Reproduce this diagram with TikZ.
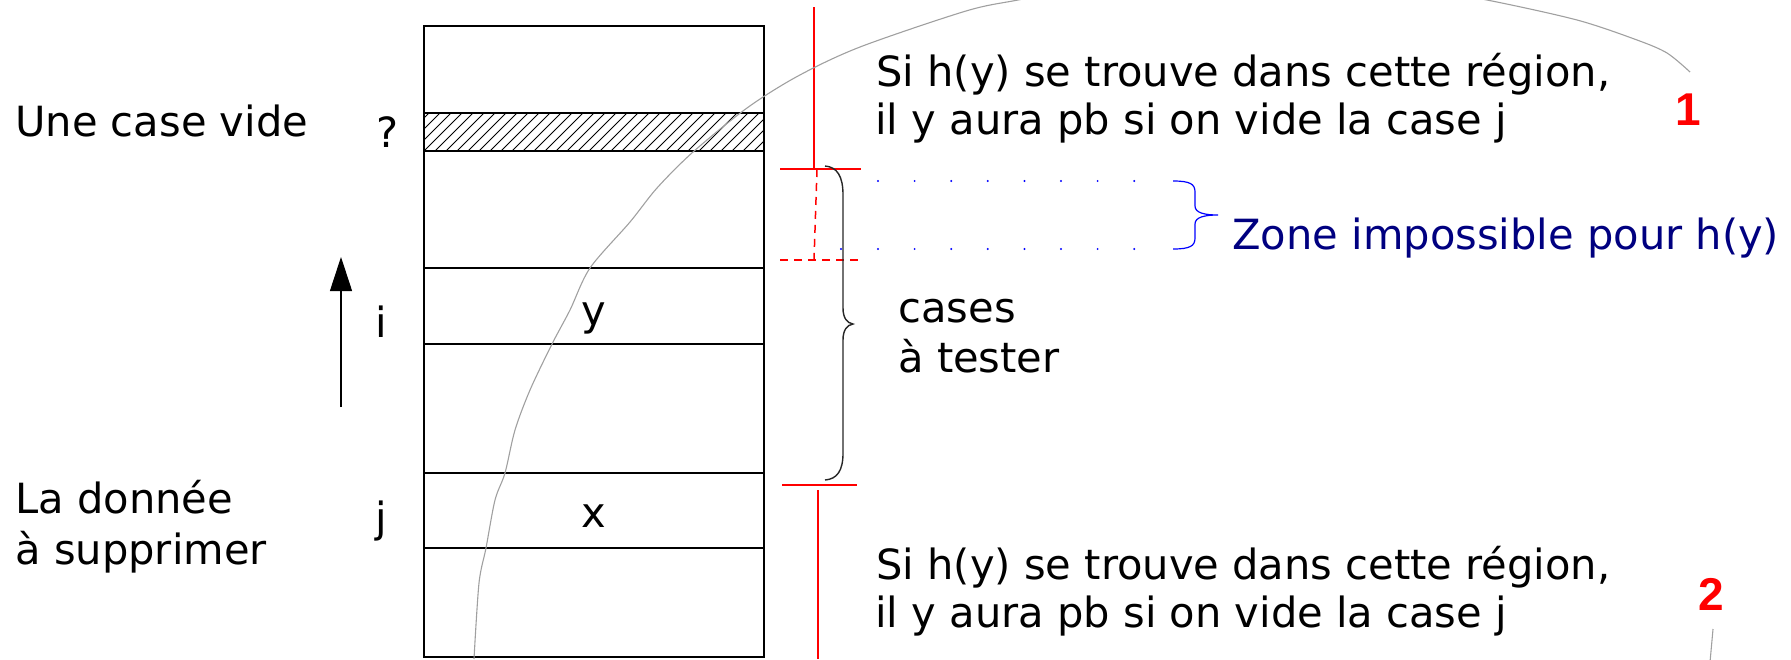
\documentclass[tikz,border=0pt]{standalone}
\usepackage{fontspec}
\setmainfont{DejaVu Sans}
\newfontfamily\numfont{Liberation Sans}
\usetikzlibrary{arrows.meta}
\definecolor{navyz}{RGB}{0,0,128}
\definecolor{curvegray}{RGB}{160,160,160}
\begin{document}
\begin{tikzpicture}[x=0.5pt,y=-0.5pt,
  txt/.style={inner sep=0pt, font=\fontsize{20.8}{25}\selectfont, anchor=base west},
  ctxt/.style={inner sep=0pt, font=\fontsize{20.8}{25}\selectfont, anchor=base},
  num/.style={inner sep=0pt, font=\numfont\bfseries\fontsize{23}{27}\selectfont, text=red, anchor=base},
  cell/.style={draw=black, line width=0.75pt},
  redl/.style={draw=red, line width=0.75pt},
  redd/.style={draw=red, line width=0.75pt, dash pattern=on 4pt off 3pt},
  curv/.style={draw=curvegray, line width=0.55pt},
  bluedot/.style={fill=blue, draw=none}
]
\useasboundingbox (0,0) rectangle (1791,659);

% column of cells
\coordinate (tl) at (424,26);
\coordinate (br) at (764,657);
\begin{scope}
  \clip (424,113) rectangle (764,151);
  \foreach \k in {-4,...,32} {
    \draw[line width=0.45pt] ({424+11*\k},151) -- ({424+11*\k+38},113);
  }
\end{scope}
\draw[cell] (tl) rectangle (br);
\draw[cell] (424,113) -- (764,113);
\draw[cell] (424,151) -- (764,151);
\draw[cell] (424,268) -- (764,268);
\draw[cell] (424,344) -- (764,344);
\draw[cell] (424,473) -- (764,473);
\draw[cell] (424,548) -- (764,548);

\node[ctxt] (ly) at (594,325) {y};
\node[ctxt] (lx) at (594,527) {x};

% left labels
\node[txt] (vide) at (15,136) {Une case vide};
\node[ctxt] (q) at (388,147) {?};
\node[ctxt] (li) at (381,337) {i};
\node[ctxt] (lj) at (381,532) {j};
\node[txt] (don1) at (15,513) {La donnée};
\node[txt] (don2) at (15,564) {à supprimer};

% arrow
\coordinate (ab) at (341,407);
\coordinate (at) at (341,257);
\draw[line width=0.55pt, -{Triangle[width=11pt,length=17pt]}] (ab) -- (at);

% red marks
\coordinate (r1a) at (814,7);
\coordinate (r1b) at (814,169);
\draw[redl] (r1a) -- (r1b);
\draw[redl] (780,169) -- (861,169);
\draw[redd] (817,169) -- (814,260);
\draw[redd] (780,260) -- (861,260);
\draw[redl] (782,485) -- (857,485);
\draw[redl] (818,490) -- (818,659);

% black brace
\draw[black!85, line width=0.7pt]
  (825,166) .. controls (837,167) and (843,176) .. (843,195)
  -- (843,308) .. controls (843,318) and (847,323) .. (853,324)
  .. controls (847,325) and (843,330) .. (843,340)
  -- (843,453) .. controls (843,471) and (837,479) .. (825,480);

\node[txt] (c1) at (898,322) {cases};
\node[txt] (c2) at (898,372) {à tester};

% blue dotted zone
\foreach \k in {0,...,7} {
  \fill[bluedot] ({878+36.6*\k},181) circle (1.1);
  \fill[bluedot] ({878+36.6*\k},249) circle (1.1);
}
\fill[bluedot] (841,249) circle (1.1);
\draw[blue, line width=0.6pt]
  (1173,181) .. controls (1190,181) and (1195,184) .. (1195,192)
  -- (1195,206) .. controls (1195,213) and (1205,215) .. (1218,215)
  .. controls (1205,215) and (1195,217) .. (1195,224)
  -- (1195,238) .. controls (1195,246) and (1190,249) .. (1173,249);
\node[txt, text=navyz] (zone) at (1232,249) {Zone impossible pour h(y)};

% region texts
\node[txt] (t1a) at (876,86) {Si h(y) se trouve dans cette région,};
\node[txt] (t1b) at (875,134) {il y aura pb si on vide la case j};
\node[txt] (t2a) at (876,579) {Si h(y) se trouve dans cette région,};
\node[txt] (t2b) at (875,627) {il y aura pb si on vide la case j};
\node[num] (n1) at (1688,125) {1};
\node[num] (n2) at (1711,610) {2};

% gray curves
\begin{scope}
  \clip (0,0) rectangle (1791,659);
  \draw[curv] plot[smooth, tension=0.5] coordinates {
    (474,659) (479,583) (486,548) (495,500) (505,473) (515,430) (530,390)
    (552,344) (570,310) (590,268) (630,222) (657,188) (693,152) (747,108)
    (798,76) (860,47) (966,11) (1018,0) (1100,-15) (1252,-25) (1400,-15)
    (1487,0) (1577,20) (1637,40) (1667,53) (1690,72)};
  \draw[curv] (1713,629) .. controls (1712,640) .. (1710,662);
\end{scope}
\end{tikzpicture}
\end{document}
